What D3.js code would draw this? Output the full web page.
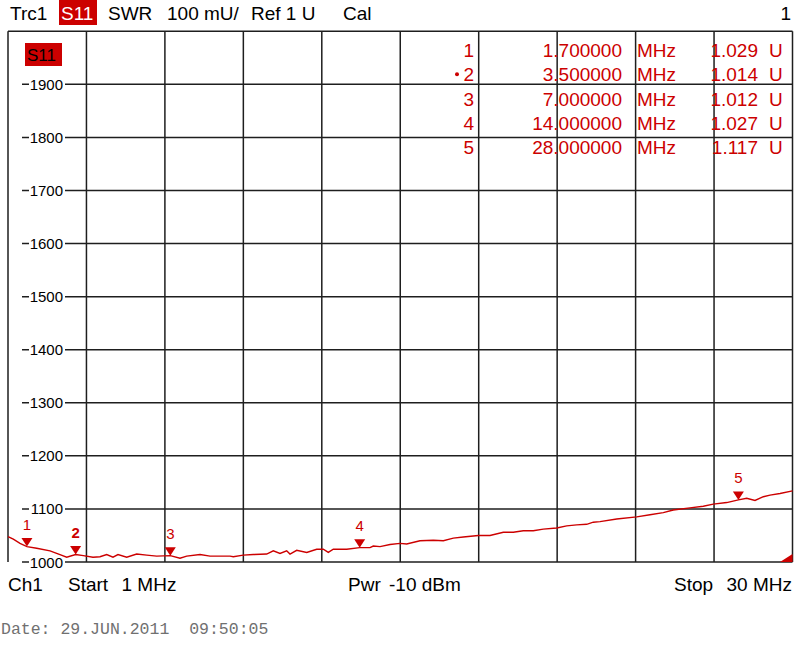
<!DOCTYPE html>
<html><head><meta charset="utf-8">
<script src="https://cdn.jsdelivr.net/npm/d3@7/dist/d3.min.js"></script>
<style>body{margin:0;background:#fff}svg{display:block}</style>
</head><body>
<script>
// ---- data ----
const freqMHz = [1.000,1.196,1.444,1.700,2.061,2.553,2.922,3.170,3.500,3.784,4.142,4.401,4.649,4.881,5.066,5.388,5.757,6.127,6.497,7.000,7.358,7.606,8.098,8.468,9.207,9.329,9.698,10.068,10.563,10.807,11.055,11.302,11.424,11.672,12.042,12.411,12.656,12.840,13.025,13.520,14.000,14.382,14.504,14.752,15.121,15.491,15.739,16.230,16.722,17.092,17.462,17.831,18.386,18.818,19.310,19.679,20.049,20.418,20.788,21.283,21.653,22.022,22.392,22.636,22.884,23.501,24.240,24.732,25.224,25.593,26.210,26.702,27.072,27.568,28.000,28.307,28.614,28.922,29.169,29.539,30.000];
const swrU = [1.048,1.043,1.035,1.029,1.026,1.021,1.014,1.009,1.014,1.012,1.009,1.010,1.014,1.009,1.014,1.009,1.015,1.013,1.011,1.012,1.007,1.011,1.014,1.011,1.011,1.010,1.013,1.014,1.015,1.021,1.016,1.021,1.015,1.022,1.018,1.024,1.024,1.018,1.024,1.024,1.027,1.027,1.030,1.029,1.033,1.035,1.034,1.040,1.041,1.040,1.045,1.047,1.050,1.050,1.056,1.056,1.059,1.059,1.062,1.064,1.068,1.070,1.071,1.075,1.076,1.081,1.085,1.089,1.093,1.098,1.102,1.105,1.109,1.112,1.117,1.120,1.116,1.123,1.126,1.129,1.134];
const markerIds = ["1","2","3","4","5"];
const markerFreq = [1.7,3.5,7.0,14.0,28.0];
const markerSwr = [1.029,1.014,1.012,1.027,1.117];
const markerFreqText = ["1.700000","3.500000","7.000000","14.000000","28.000000"];
const markerValText = ["1.029","1.014","1.012","1.027","1.117"];
const yTickValues = [1.0,1.1,1.2,1.3,1.4,1.5,1.6,1.7,1.8,1.9];
const yTickLabels = ["1000","1100","1200","1300","1400","1500","1600","1700","1800","1900"];
const xGridValues = d3.range(0,11).map(i => 1 + i*2.9);
const yGridValues = d3.range(0,11).map(i => 1 + i*0.1);

// ---- layout ----
const W = 800, H = 659;
const RED = "#cc0000", GRID = "#1e1e1e";
const x = d3.scaleLinear().domain([1,30]).range([8,792.5]);
const y = d3.scaleLinear().domain([1.0,2.0]).range([562,31.3]);

const svg = d3.select("body").append("svg").attr("width",W).attr("height",H)
  .style("font-family","'Liberation Sans', Arial, sans-serif");

// header
const hdr = svg.append("g").attr("font-size",19).attr("fill","#000");
hdr.append("text").attr("x",10).attr("y",20).text("Trc1");
hdr.append("rect").attr("x",59).attr("y",0).attr("width",38).attr("height",25).attr("fill",RED);
hdr.append("text").attr("x",61).attr("y",20).attr("fill","#fff").text("S11");
hdr.append("text").attr("x",108).attr("y",20).text("SWR");
hdr.append("text").attr("x",167).attr("y",20).text("100 mU/");
hdr.append("text").attr("x",251).attr("y",20).text("Ref 1 U");
hdr.append("text").attr("x",343).attr("y",20).text("Cal");
hdr.append("text").attr("x",791).attr("y",20).attr("text-anchor","end").text("1");

// grid
const g = svg.append("g");
g.selectAll("line.v").data(xGridValues).join("line")
  .attr("x1",d=>x(d)).attr("x2",d=>x(d)).attr("y1",y(2.0)).attr("y2",y(1.0))
  .attr("stroke",GRID).attr("stroke-width",1.5);
g.selectAll("line.h").data(yGridValues).join("line")
  .attr("x1",d => d>=1.99 ? x(1) : 22).attr("x2",x(30)).attr("y1",d=>y(d)).attr("y2",d=>y(d))
  .attr("stroke",GRID).attr("stroke-width",1.5);

// y labels with white background
const yl = svg.append("g").attr("font-size",15);
yTickValues.forEach((v,i) => {
  yl.append("rect").attr("x",29).attr("y",y(v)-8).attr("width",36).attr("height",16).attr("fill","#fff");
  yl.append("text").attr("x",63).attr("y",y(v)+5.5).attr("text-anchor","end").text(yTickLabels[i]);
});

// S11 trace label
svg.append("rect").attr("x",25).attr("y",43).attr("width",37).attr("height",23).attr("fill",RED);
svg.append("text").attr("x",27).attr("y",61).attr("font-size",17).text("S11");

// trace
const pts = freqMHz.map((f,i)=>[f,swrU[i]]);
svg.append("path").datum(pts)
  .attr("d", d3.line().x(d=>x(d[0])).y(d=>y(d[1])))
  .attr("fill","none").attr("stroke",RED).attr("stroke-width",1.4);

// markers
const mk = svg.append("g").attr("fill",RED);
markerIds.forEach((id,i) => {
  const mx = x(markerFreq[i]), my = y(markerSwr[i]);
  mk.append("path").attr("d",`M${mx-5.5},${my-8.5}L${mx+5.5},${my-8.5}L${mx},${my}Z`);
  mk.append("text").attr("x",mx).attr("y",my-17).attr("text-anchor","middle")
    .attr("font-size",15).attr("font-weight", id==="2" ? "bold" : "normal").text(id);
});

// corner indicator
svg.append("path").attr("d",`M${x(30)-12.5},${y(1.0)}L${x(30)},${y(1.0)}L${x(30)},${y(1.0)-8}Z`).attr("fill",RED);

// marker table
const tb = svg.append("g").attr("font-size",19).attr("fill",RED);
const rowY = [57,81.3,105.5,129.7,154];
markerIds.forEach((id,i) => {
  tb.append("text").attr("x",474).attr("y",rowY[i]).attr("text-anchor","end").text(id);
  if (id==="2") tb.append("circle").attr("cx",457).attr("cy",rowY[i]-7).attr("r",2);
  tb.append("text").attr("x",622).attr("y",rowY[i]).attr("text-anchor","end").text(markerFreqText[i]);
  tb.append("text").attr("x",637).attr("y",rowY[i]).text("MHz");
  tb.append("text").attr("x",758).attr("y",rowY[i]).attr("text-anchor","end").text(markerValText[i]);
  tb.append("text").attr("x",769).attr("y",rowY[i]).text("U");
});

// bottom line
const ft = svg.append("g").attr("font-size",19).attr("fill","#000");
ft.append("text").attr("x",8).attr("y",591).text("Ch1");
ft.append("text").attr("x",68).attr("y",591).text("Start");
ft.append("text").attr("x",121.5).attr("y",591).text("1 MHz");
ft.append("text").attr("x",348).attr("y",591).text("Pwr");
ft.append("text").attr("x",389).attr("y",591).text("-10 dBm");
ft.append("text").attr("x",674).attr("y",591).text("Stop");
ft.append("text").attr("x",792).attr("y",591).attr("text-anchor","end").text("30 MHz");

svg.append("text").attr("x",1).attr("y",634).attr("font-family","'Liberation Mono', 'Courier New', monospace")
  .attr("font-size",16.5).attr("fill","#707070").attr("xml:space","preserve")
  .style("white-space","pre").text("Date: 29.JUN.2011  09:50:05");
</script>
</body></html>
